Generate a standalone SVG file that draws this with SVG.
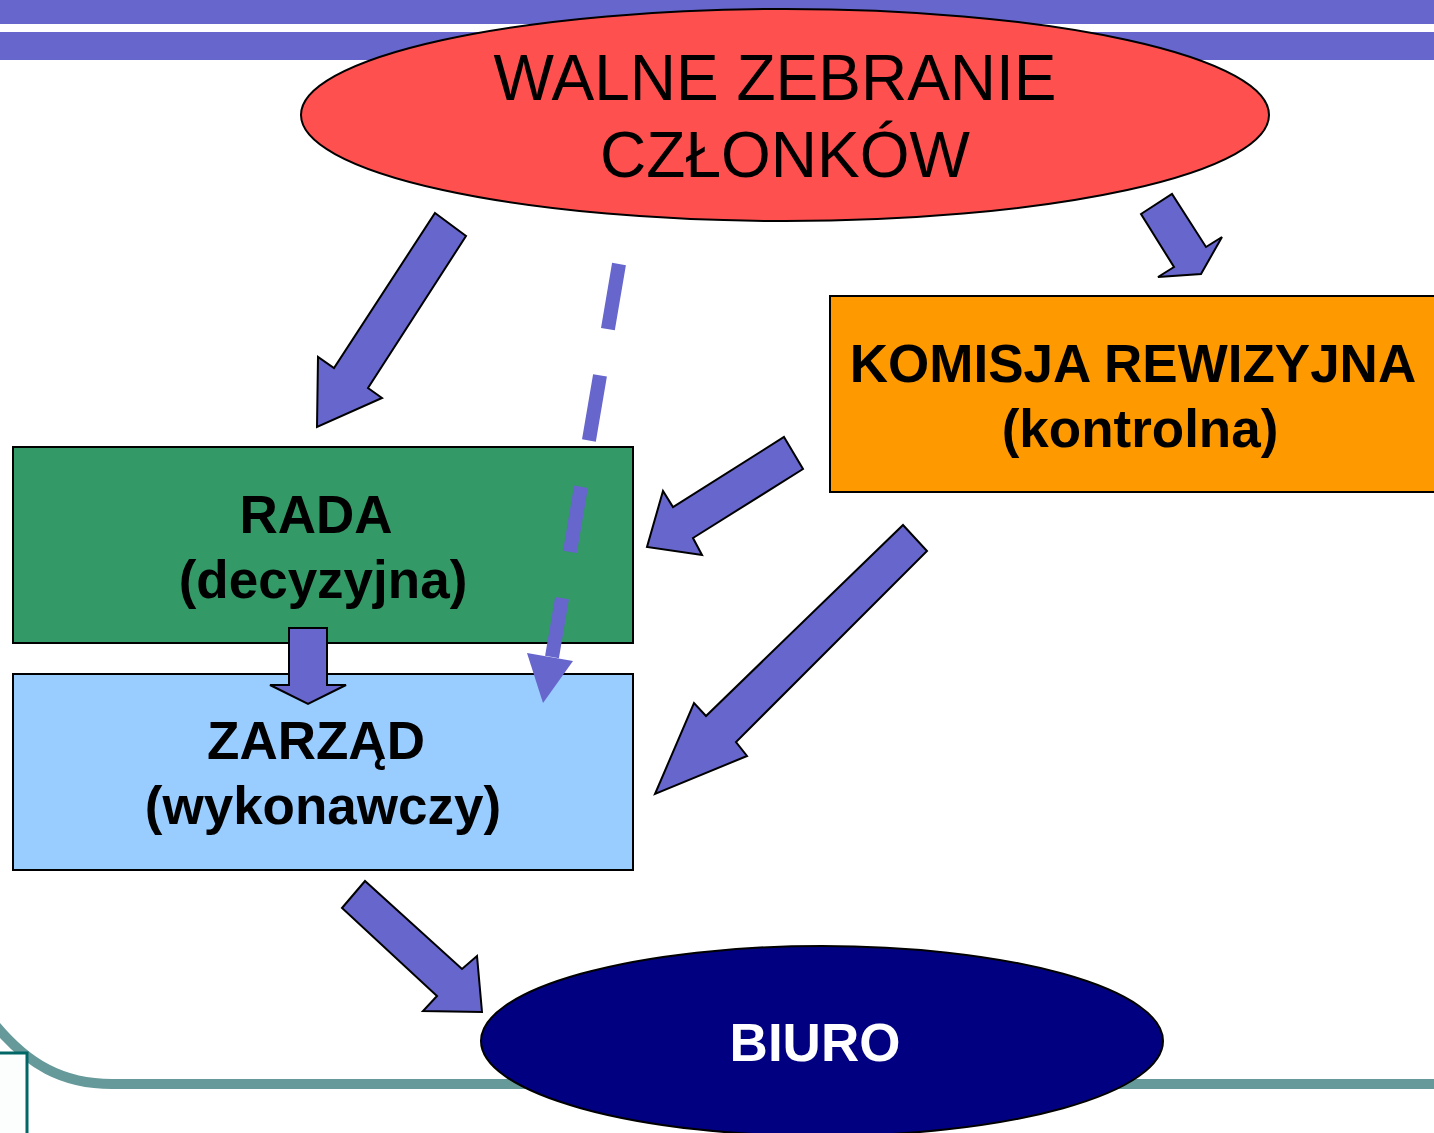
<svg xmlns="http://www.w3.org/2000/svg" width="1434" height="1133" viewBox="0 0 1434 1133">
<style>
.t{font-family:"Liberation Sans",Arial,sans-serif;text-anchor:middle;fill:#000}
.b{font-weight:bold;font-size:53px}
.arr{fill:#6666CC;stroke:#000;stroke-width:2;stroke-linejoin:miter}
.box{stroke:#000;stroke-width:2}
</style>
<rect x="0" y="0" width="1434" height="1133" fill="#fff"/>
<g id="background">
<rect x="0" y="0" width="1434" height="24" fill="#6666CC"/>
<rect x="0" y="32" width="1434" height="28" fill="#6666CC"/>
<path d="M -4,1026 C 28,1064 62,1084 112,1084 L 1440,1084" fill="none" stroke="#669999" stroke-width="10"/>
<rect x="-10" y="1053" width="37" height="90" fill="#FCFDFD" stroke="#006666" stroke-width="3"/>
</g>
<g id="walne">
<ellipse cx="785" cy="115" rx="484" ry="106" fill="#FF5050" stroke="#000" stroke-width="2"/>
<text class="t" x="775" y="100" font-size="64">WALNE ZEBRANIE</text>
<text class="t" x="785" y="177" font-size="64">CZŁONKÓW</text>
</g>
<g id="komisja">
<rect class="box" x="830" y="296" width="610" height="196" fill="#FF9900"/>
<text class="t b" x="1133" y="382">KOMISJA REWIZYJNA</text>
<text class="t b" x="1140" y="447">(kontrolna)</text>
</g>
<g id="rada">
<rect class="box" x="13" y="447" width="620" height="196" fill="#339966"/>
<text class="t b" x="316" y="533">RADA</text>
<text class="t b" x="323" y="598">(decyzyjna)</text>
</g>
<g id="zarzad">
<rect class="box" x="13" y="674" width="620" height="196" fill="#99CCFF"/>
<text class="t b" x="316" y="759">ZARZĄD</text>
<text class="t b" x="323" y="824">(wykonawczy)</text>
</g>
<g id="biuro">
<ellipse cx="822" cy="1041" rx="341" ry="95" fill="#000080" stroke="#000" stroke-width="2"/>
<text class="t b" x="815" y="1061" style="fill:#fff">BIURO</text>
</g>
<g id="connectors">
<polygon class="arr" points="435,213 466,236 368,388 382,398 317,427 318,357 334,368"/>
<polygon class="arr" points="1141,214 1172,194 1206,247 1222,237 1201,274 1158,277 1174,267"/>
<polygon class="arr" points="784,437 803,469 693,538 702,555 647,547 663,491 673,507"/>
<polygon class="arr" points="903,525 927,551 736,742 747,756 655,794 694,703 706,716"/>
<polygon class="arr" points="289,628 327,628 327,685 346,685 308,704 270,685 289,685"/>
<polygon class="arr" points="342,908 365,881 462,969 477,956 482,1012 423,1011 437,996"/>
<line x1="619" y1="264" x2="552" y2="657" stroke="#6666CC" stroke-width="14" stroke-dasharray="66 47"/>
<polygon points="527,653 573,661 543,703" fill="#6666CC"/>
</g>
</svg>
